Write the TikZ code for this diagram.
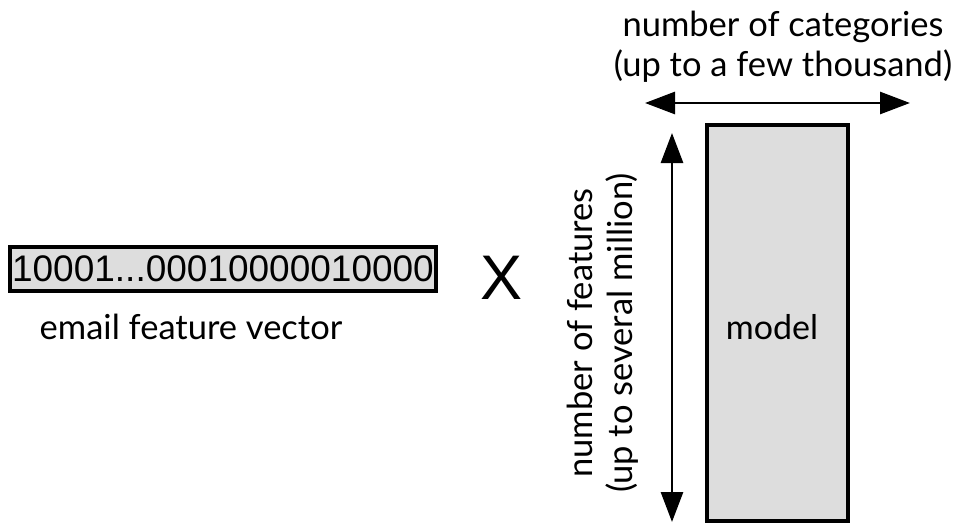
\documentclass[tikz,border=0pt]{standalone}
\usepackage{fontspec}
\setmainfont{Lato}
\newfontfamily\arialfont{Liberation Sans}
\usetikzlibrary{arrows.meta}
\definecolor{boxgray}{HTML}{DDDDDD}
\begin{document}
\begin{tikzpicture}[x=1pt,y=-1pt,
  lbl/.style={font=\fontsize{34.5}{40}\selectfont, align=center, inner sep=0pt},
  dimarrow/.style={line width=2.8pt,
    {Triangle[length=30pt,width=22pt]}-{Triangle[length=30pt,width=22pt]}},
  graybox/.style={draw, line width=4pt, fill=boxgray, inner sep=0pt}]
\useasboundingbox (0,0) rectangle (954,527);

% feature vector
\node[graybox, minimum width=426pt, minimum height=44pt,
      font=\arialfont\fontsize{37}{37}\selectfont] (vec) at (223,269)
      {10001...00010000010000};
\node[lbl] (veclbl) at (191,327) {email feature vector};

% multiplication sign
\node[font=\arialfont\fontsize{63}{63}\selectfont, inner sep=0pt] (times) at (501.5,277.5) {X};

% model matrix
\node[graybox, minimum width=141pt, minimum height=396pt] (model) at (777.5,323) {};
\node[lbl, font=\fontsize{34}{34}\selectfont] (modellbl) at (772,327) {model};

% categories dimension
\coordinate (hl) at (645,103);
\coordinate (hr) at (910,103);
\draw[dimarrow] (hl) -- (hr);
\node[lbl] (catlbl) at (783,47) {number of categories\\(up to a few thousand)};

% features dimension
\coordinate (vt) at (672,133);
\coordinate (vb) at (672,522);
\draw[dimarrow] (vt) -- (vb);
\node[lbl, rotate=90] (featlbl) at (603,333) {number of features\\(up to several million)};
\end{tikzpicture}
\end{document}
